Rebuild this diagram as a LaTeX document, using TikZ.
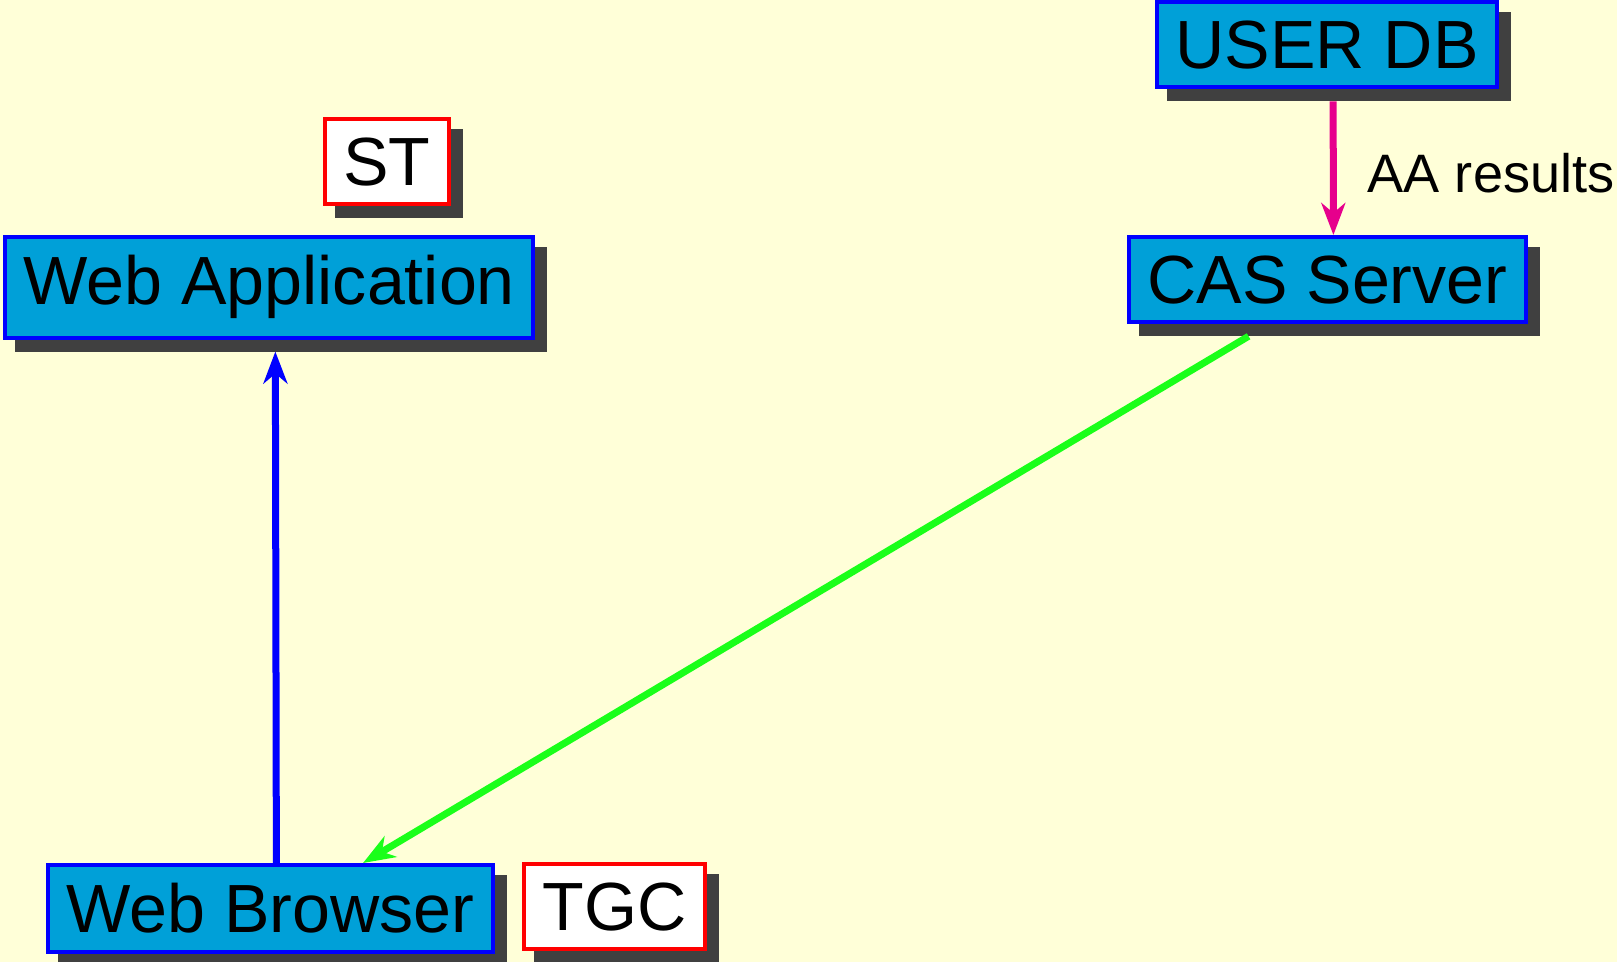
\documentclass[tikz,border=0pt]{standalone}
\usepackage{fontspec}
\setmainfont{Liberation Sans}
\usetikzlibrary{positioning,shadows,fit,calc,arrows.meta}

\definecolor{bgyellow}{HTML}{FFFFD8}
\definecolor{boxblue}{HTML}{00A0D8}
\definecolor{shadowgray}{HTML}{404040}
\definecolor{aamagenta}{HTML}{E6008C}
\definecolor{flowgreen}{HTML}{1AFF1A}

\tikzset{
  boxshadow/.style={drop shadow={shadow xshift=0.12cm, shadow yshift=-0.12cm, fill=shadowgray, draw=shadowgray, opacity=1}},
  actor/.style={boxshadow, draw=blue, fill=boxblue, line width=0.04cm, inner sep=0.185cm, anchor=north west, font=\fontsize{19.4}{23}\selectfont},
  ticket/.style={actor, draw=red, fill=white},
  frame/.style={inner sep=0pt, outer sep=0pt},
  flow/.style={line width=0.07cm, -{Stealth[length=0.32cm, width=0.24cm, inset=0.1cm]}},
  aalabel/.style={midway, anchor=west, xshift=0.28cm, yshift=-0.05cm, inner sep=0.03cm, text=black, font=\fontsize{15.4}{18}\selectfont},
}

\begin{document}
\begin{tikzpicture}
  \fill[bgyellow] (0,0) rectangle (16.17,-9.62);
  \useasboundingbox (0,0) rectangle (16.17,-9.62);

  % servers and client
  \node[actor] (userdb) at (11.55, 0) {USER DB};
  \node[actor] (cas) at (11.27, -2.35) {CAS Server};
  \node[actor] (webapp) at (0.03, -2.35) {Web Application};
  \node[actor] (browser) at (0.46, -8.63) {Web Browser};

  % tickets
  \node[ticket] (st) at (3.23, -1.17) {ST};
  \node[ticket] (tgc) at (5.22, -8.62) {TGC};

  % box plus shadow, used as connector ends
  \foreach \n in {userdb, cas, webapp, browser}
    \node[frame, fit={(\n.north west) ($(\n.south east)+(0.12,-0.12)$)}] (\n-sh) {};

  % flows
  \draw[flow, aamagenta] (userdb-sh) -- node[aalabel] {AA results} (cas-sh);
  \draw[flow, blue] (browser-sh) -- (webapp-sh);
  \draw[flow, flowgreen] (cas-sh) -- (browser-sh);
\end{tikzpicture}
\end{document}
